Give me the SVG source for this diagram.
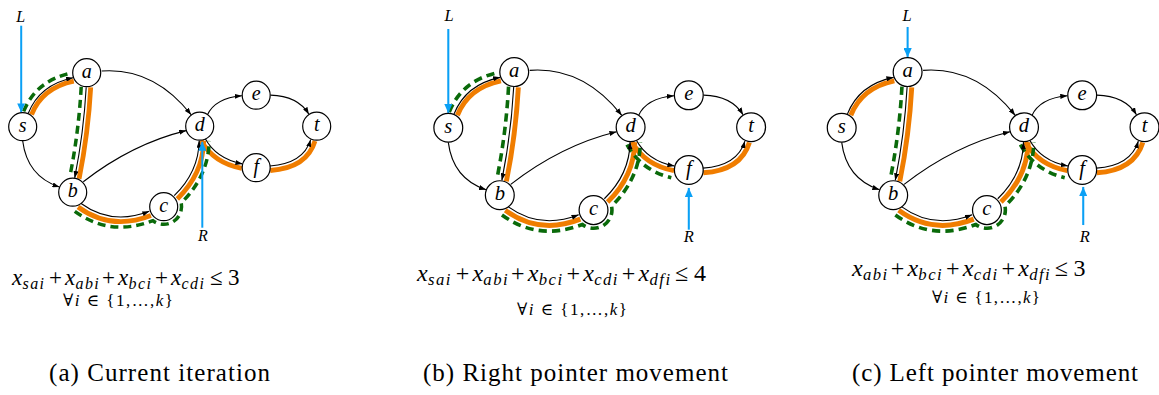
<svg xmlns="http://www.w3.org/2000/svg" width="1159" height="395" viewBox="0 0 1159 395">
<defs>
<marker id="ah" viewBox="0 0 7 5" refX="7" refY="2.5" markerWidth="7" markerHeight="5" markerUnits="userSpaceOnUse" orient="auto"><path d="M0,0 L7,2.5 L0,5 z" fill="#000"/></marker>
<marker id="bt" viewBox="0 0 9 8" refX="9" refY="4" markerWidth="9" markerHeight="8" markerUnits="userSpaceOnUse" orient="auto"><path d="M0,0 L9,4 L0,8 z" fill="#0AA0F5"/></marker>
</defs>
<style>
.edge{fill:none;stroke:#000;stroke-width:1.1;marker-end:url(#ah)}
.hl{fill:none;stroke:#F07D00;stroke-width:4.8}
.gr{fill:none;stroke:#0A6A0A;stroke-width:3.5;stroke-dasharray:8 5}
.ptr{fill:none;stroke:#0AA0F5;stroke-width:2;marker-end:url(#bt)}
.node circle{fill:#fff;stroke:#000;stroke-width:1.2}
.node text{font-family:"Liberation Serif","DejaVu Serif",serif;font-style:italic;font-size:20px;text-anchor:middle}
.lbl{font-family:"Liberation Serif","DejaVu Serif",serif;font-style:italic;font-size:16px;text-anchor:middle}
.f{font-family:"Liberation Serif","DejaVu Serif",serif;font-size:23px}
.f .i{font-style:italic}
.f .s{font-style:italic;font-size:16px;letter-spacing:1.4px}
.q{font-family:"Liberation Serif","DejaVu Serif",serif;font-size:17px}
.q .i{font-style:italic}
.cap{font-family:"Liberation Serif","DejaVu Serif",serif;font-size:25px}
</style>

<!-- Panel (a) -->
<g id="panel-a" transform="translate(22.7,126.7)">
<g id="a-connectors">
<path class="hl" d="M8.85,-12.1 Q19.56,-38.95 51.1,-45.5"/>
<path class="hl" d="M68,-39.25 Q65.5,6.55 56.4,52.1"/>
<path class="hl" d="M55.35,80.24 Q88.3,104.3 128.2,88.8"/>
<path class="hl" d="M154.64,72.22 Q180.46,47.02 181,14.07"/>
<path class="hl" d="M178.34,13.75 Q190.5,36.17 219.14,41.72"/>
<path class="hl" d="M247.6,43.8 Q284.1,41.2 292.3,14.3"/>
<path class="gr" d="M0.95,-15.25 Q13.35,-46.35 49.4,-53.8"/>
<path class="gr" d="M58.5,-39.8 Q56.03,5.37 47.1,50.2"/>
<path class="gr" d="M52.1,84.7 Q87.5,110.5 130.2,93.95 A17.8,17.8 0 0 0 158.5,76.2 Q185.93,49.38 186.5,14.16"/>
<path class="edge" d="M5.6,-13.4 Q17,-42 50.4,-48.9"/>
<path class="edge" d="M0,14.3 Q4.5,49.6 36.7,60.3"/>
<path class="edge" d="M63.5,-39.5 Q61,6 52,51.2"/>
<path class="edge" d="M79,-55.7 Q130.9,-59.6 168.45,-11.93"/>
<path class="edge" d="M60.6,55 Q109.2,17.15 163.4,3.9"/>
<path class="edge" d="M58,76.6 Q89,99.2 126.6,84.6"/>
<path class="edge" d="M151.5,69 Q176,45.1 176.5,14"/>
<path class="edge" d="M184.6,-11.7 Q192.3,-28.65 219.2,-31"/>
<path class="edge" d="M182.3,11.6 Q193.45,32.15 219.7,37.2"/>
<path class="edge" d="M247.8,-31.6 Q275.1,-30.85 286.2,-12.5"/>
<path class="edge" d="M247.3,39.3 Q280.7,36.9 288,13"/>
<path class="ptr" d="M-1.5,-101 L-1.5,-14.3"/>
<path class="ptr" d="M179.6,101 L179.6,15"/>
</g>
<g id="a-node-s" class="node"><circle cx="0" cy="0" r="14"/><text x="0" y="5">s</text></g>
<g id="a-node-a" class="node"><circle cx="64" cy="-54" r="14"/><text x="64" y="-49">a</text></g>
<g id="a-node-b" class="node"><circle cx="50" cy="65.5" r="14"/><text x="50" y="70.5">b</text></g>
<g id="a-node-c" class="node"><circle cx="141" cy="80" r="14"/><text x="141" y="85">c</text></g>
<g id="a-node-d" class="node"><circle cx="177" cy="-0.5" r="14"/><text x="177" y="4.5">d</text></g>
<g id="a-node-e" class="node"><circle cx="233.5" cy="-31.5" r="14"/><text x="233.5" y="-26.5">e</text></g>
<g id="a-node-f" class="node"><circle cx="233.5" cy="41" r="14"/><text x="233.5" y="46">f</text></g>
<g id="a-node-t" class="node"><circle cx="294" cy="-0.5" r="14"/><text x="294" y="4.5">t</text></g>
<text class="lbl" x="-2" y="-104.5">L</text>
<text class="lbl" x="180.3" y="114">R</text>
</g>

<!-- Panel (b) -->
<g id="panel-b" transform="translate(448.3,127.7) scale(1.03)">
<g id="b-connectors">
<path class="hl" d="M8.85,-12.1 Q19.56,-38.95 51.1,-45.5"/>
<path class="hl" d="M68,-39.25 Q65.5,6.55 56.4,52.1"/>
<path class="hl" d="M55.35,80.24 Q88.3,104.3 128.2,88.8"/>
<path class="hl" d="M154.64,72.22 Q180.46,47.02 181,14.07"/>
<path class="hl" d="M178.34,13.75 Q190.5,36.17 219.14,41.72"/>
<path class="hl" d="M247.6,43.8 Q284.1,41.2 292.3,14.3"/>
<path class="gr" d="M0.95,-15.25 Q13.35,-46.35 49.4,-53.8"/>
<path class="gr" d="M58.5,-39.8 Q56.03,5.37 47.1,50.2"/>
<path class="gr" d="M52.1,84.7 Q87.5,110.5 130.2,93.95 A17.8,17.8 0 0 0 158.5,76.2 Q185.93,49.38 186.5,14.16"/>
<path class="gr" d="M173.5,16.4 Q186.9,41.1 216.5,48.6"/>
<path class="edge" d="M5.6,-13.4 Q17,-42 50.4,-48.9"/>
<path class="edge" d="M0,14.3 Q4.5,49.6 36.7,60.3"/>
<path class="edge" d="M63.5,-39.5 Q61,6 52,51.2"/>
<path class="edge" d="M79,-55.7 Q130.9,-59.6 168.45,-11.93"/>
<path class="edge" d="M60.6,55 Q109.2,17.15 163.4,3.9"/>
<path class="edge" d="M58,76.6 Q89,99.2 126.6,84.6"/>
<path class="edge" d="M151.5,69 Q176,45.1 176.5,14"/>
<path class="edge" d="M184.6,-11.7 Q192.3,-28.65 219.2,-31"/>
<path class="edge" d="M182.3,11.6 Q193.45,32.15 219.7,37.2"/>
<path class="edge" d="M247.8,-31.6 Q275.1,-30.85 286.2,-12.5"/>
<path class="edge" d="M247.3,39.3 Q280.7,36.9 288,13"/>
<path class="ptr" d="M0,-95.8 L0,-14.3"/>
<path class="ptr" d="M233.5,99 L233.5,58.5"/>
</g>
<g id="b-node-s" class="node"><circle cx="0" cy="0" r="14"/><text x="0" y="5">s</text></g>
<g id="b-node-a" class="node"><circle cx="64" cy="-54" r="14"/><text x="64" y="-49">a</text></g>
<g id="b-node-b" class="node"><circle cx="50" cy="65.5" r="14"/><text x="50" y="70.5">b</text></g>
<g id="b-node-c" class="node"><circle cx="141" cy="80" r="14"/><text x="141" y="85">c</text></g>
<g id="b-node-d" class="node"><circle cx="177" cy="-0.5" r="14"/><text x="177" y="4.5">d</text></g>
<g id="b-node-e" class="node"><circle cx="233.5" cy="-31.5" r="14"/><text x="233.5" y="-26.5">e</text></g>
<g id="b-node-f" class="node"><circle cx="233.5" cy="41" r="14"/><text x="233.5" y="46">f</text></g>
<g id="b-node-t" class="node"><circle cx="294" cy="-0.5" r="14"/><text x="294" y="4.5">t</text></g>
<text class="lbl" x="0.7" y="-103.5">L</text>
<text class="lbl" x="233.6" y="110.5">R</text>
</g>

<!-- Panel (c) -->
<g id="panel-c" transform="translate(841.7,127.7) scale(1.03)">
<g id="c-connectors">
<path class="hl" d="M8.85,-12.1 Q19.56,-38.95 51.1,-45.5"/>
<path class="hl" d="M68,-39.25 Q65.5,6.55 56.4,52.1"/>
<path class="hl" d="M55.35,80.24 Q88.3,104.3 128.2,88.8"/>
<path class="hl" d="M154.64,72.22 Q180.46,47.02 181,14.07"/>
<path class="hl" d="M178.34,13.75 Q190.5,36.17 219.14,41.72"/>
<path class="hl" d="M247.6,43.8 Q284.1,41.2 292.3,14.3"/>
<path class="gr" d="M58.5,-39.8 Q56.03,5.37 47.1,50.2"/>
<path class="gr" d="M52.1,84.7 Q87.5,110.5 130.2,93.95 A17.8,17.8 0 0 0 158.5,76.2 Q185.93,49.38 186.5,14.16"/>
<path class="gr" d="M173.5,16.4 Q186.9,41.1 216.5,48.6"/>
<path class="edge" d="M5.6,-13.4 Q17,-42 50.4,-48.9"/>
<path class="edge" d="M0,14.3 Q4.5,49.6 36.7,60.3"/>
<path class="edge" d="M63.5,-39.5 Q61,6 52,51.2"/>
<path class="edge" d="M79,-55.7 Q130.9,-59.6 168.45,-11.93"/>
<path class="edge" d="M60.6,55 Q109.2,17.15 163.4,3.9"/>
<path class="edge" d="M58,76.6 Q89,99.2 126.6,84.6"/>
<path class="edge" d="M151.5,69 Q176,45.1 176.5,14"/>
<path class="edge" d="M184.6,-11.7 Q192.3,-28.65 219.2,-31"/>
<path class="edge" d="M182.3,11.6 Q193.45,32.15 219.7,37.2"/>
<path class="edge" d="M247.8,-31.6 Q275.1,-30.85 286.2,-12.5"/>
<path class="edge" d="M247.3,39.3 Q280.7,36.9 288,13"/>
<path class="ptr" d="M64,-97.8 L64,-68.3"/>
<path class="ptr" d="M234.5,94.5 L234.5,57.5"/>
</g>
<g id="c-node-s" class="node"><circle cx="0" cy="0" r="14"/><text x="0" y="5">s</text></g>
<g id="c-node-a" class="node"><circle cx="64" cy="-54" r="14"/><text x="64" y="-49">a</text></g>
<g id="c-node-b" class="node"><circle cx="50" cy="65.5" r="14"/><text x="50" y="70.5">b</text></g>
<g id="c-node-c" class="node"><circle cx="141" cy="80" r="14"/><text x="141" y="85">c</text></g>
<g id="c-node-d" class="node"><circle cx="177" cy="-0.5" r="14"/><text x="177" y="4.5">d</text></g>
<g id="c-node-e" class="node"><circle cx="233.5" cy="-31.5" r="14"/><text x="233.5" y="-26.5">e</text></g>
<g id="c-node-f" class="node"><circle cx="233.5" cy="41" r="14"/><text x="233.5" y="46">f</text></g>
<g id="c-node-t" class="node"><circle cx="294" cy="-0.5" r="14"/><text x="294" y="4.5">t</text></g>
<text class="lbl" x="63.4" y="-103.5">L</text>
<text class="lbl" x="236" y="110.5">R</text>
</g>

<!-- Formulas -->
<g id="formula-a" transform="translate(12,285)">
<text class="f"><tspan class="i" x="0" y="0">x</tspan><tspan class="s" x="10.5" y="4">sai</tspan><tspan x="37" y="0">+</tspan><tspan class="i" x="53" y="0">x</tspan><tspan class="s" x="63.5" y="4">abi</tspan><tspan x="90" y="0">+</tspan><tspan class="i" x="106" y="0">x</tspan><tspan class="s" x="116.5" y="4">bci</tspan><tspan x="143" y="0">+</tspan><tspan class="i" x="159" y="0">x</tspan><tspan class="s" x="169.5" y="4">cdi</tspan><tspan x="198" y="0">≤</tspan><tspan x="216" y="0">3</tspan></text>
</g>
<text class="q" x="63" y="306" textLength="110" lengthAdjust="spacing">∀<tspan class="i">i</tspan> ∈ {1,…,<tspan class="i">k</tspan>}</text>

<g id="formula-b" transform="translate(417,281) scale(1.045)">
<text class="f"><tspan class="i" x="0" y="0">x</tspan><tspan class="s" x="10.5" y="4">sai</tspan><tspan x="37" y="0">+</tspan><tspan class="i" x="53" y="0">x</tspan><tspan class="s" x="63.5" y="4">abi</tspan><tspan x="90" y="0">+</tspan><tspan class="i" x="106" y="0">x</tspan><tspan class="s" x="116.5" y="4">bci</tspan><tspan x="143" y="0">+</tspan><tspan class="i" x="159" y="0">x</tspan><tspan class="s" x="169.5" y="4">cdi</tspan><tspan x="196" y="0">+</tspan><tspan class="i" x="212" y="0">x</tspan><tspan class="s" x="222.5" y="4">dfi</tspan><tspan x="247" y="0">≤</tspan><tspan x="265" y="0">4</tspan></text>
</g>
<text class="q" x="517" y="315" textLength="110" lengthAdjust="spacing">∀<tspan class="i">i</tspan> ∈ {1,…,<tspan class="i">k</tspan>}</text>

<g id="formula-c" transform="translate(852,276) scale(1.045)">
<text class="f"><tspan class="i" x="0" y="0">x</tspan><tspan class="s" x="10.5" y="4">abi</tspan><tspan x="37" y="0">+</tspan><tspan class="i" x="53" y="0">x</tspan><tspan class="s" x="63.5" y="4">bci</tspan><tspan x="90" y="0">+</tspan><tspan class="i" x="106" y="0">x</tspan><tspan class="s" x="116.5" y="4">cdi</tspan><tspan x="143" y="0">+</tspan><tspan class="i" x="159" y="0">x</tspan><tspan class="s" x="169.5" y="4">dfi</tspan><tspan x="194" y="0">≤</tspan><tspan x="212" y="0">3</tspan></text>
</g>
<text class="q" x="932" y="303" textLength="108" lengthAdjust="spacing">∀<tspan class="i">i</tspan> ∈ {1,…,<tspan class="i">k</tspan>}</text>

<!-- Captions -->
<text class="cap" x="49" y="381" textLength="221" lengthAdjust="spacing">(a) Current iteration</text>
<text class="cap" x="423" y="381" textLength="305" lengthAdjust="spacing">(b) Right pointer movement</text>
<text class="cap" x="852" y="381" textLength="286" lengthAdjust="spacing">(c) Left pointer movement</text>
</svg>
